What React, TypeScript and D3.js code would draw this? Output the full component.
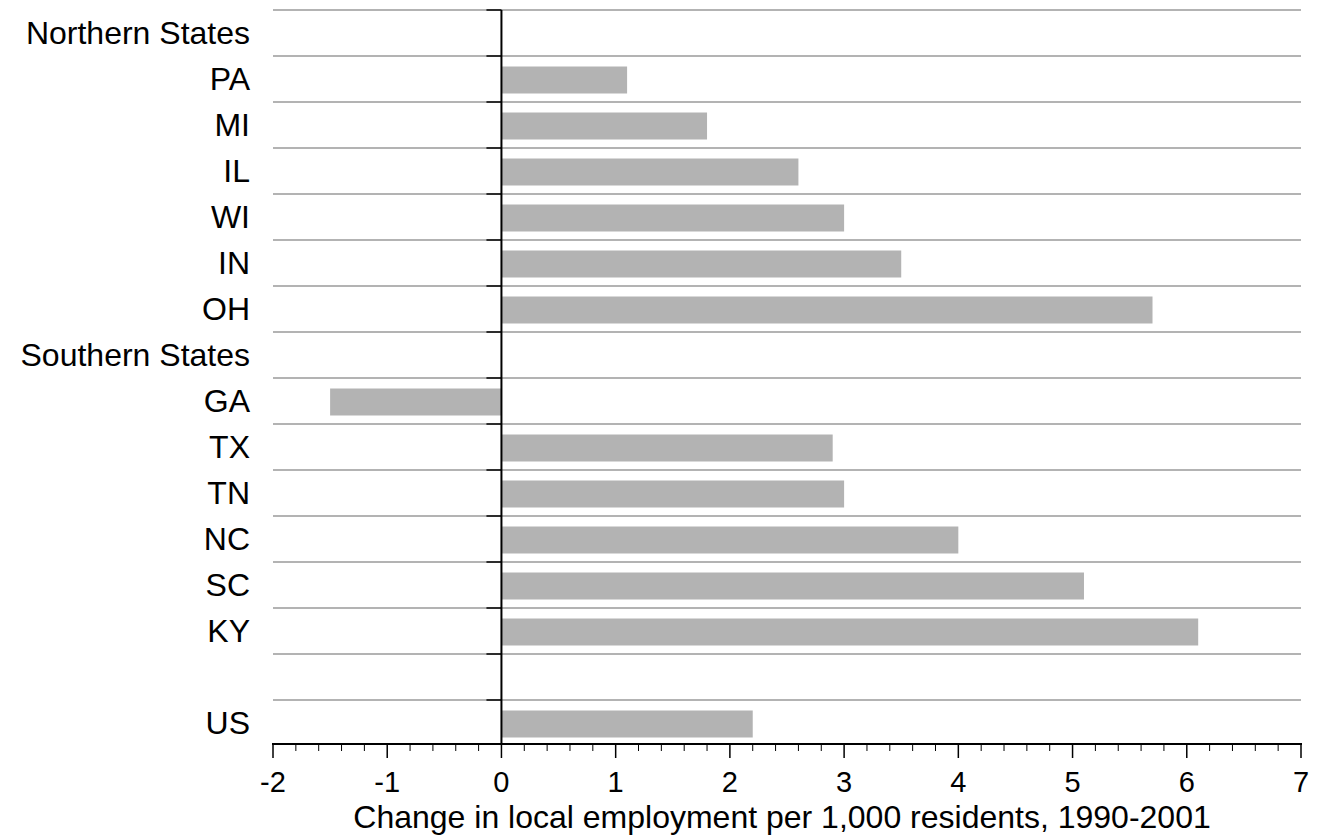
import React from "react";
import * as d3 from "d3";

const categories = ["Northern States", "PA", "MI", "IL", "WI", "IN", "OH", "Southern States", "GA", "TX", "TN", "NC", "SC", "KY", "", "US"];
const values: (number | null)[] = [null, 1.1, 1.8, 2.6, 3.0, 3.5, 5.7, null, -1.5, 2.9, 3.0, 4.0, 5.1, 6.1, null, 2.2];
const xTicks = [-2, -1, 0, 1, 2, 3, 4, 5, 6, 7];
const xTitle = "Change in local employment per 1,000 residents, 1990-2001";

export default function App() {
  const W = 1328, H = 838;
  const left = 273, right = 1301, top = 10, bottom = 746;
  const x = d3.scaleLinear().domain([-2, 7]).range([left, right]);
  const y = d3.scaleBand<number>().domain(d3.range(categories.length)).range([top, bottom]);
  const bh = 27;
  const minor = d3.range(-2, 7.0001, 0.2).filter((v) => Math.abs(v - Math.round(v)) > 1e-6);
  const font = "'Liberation Sans', Arial, Helvetica, sans-serif";
  const axisY = 744;
  return (
    <svg width={W} height={H} style={{ position: "absolute", left: 0, top: 0 }} fontFamily={font}>
      <rect width={W} height={H} fill="#fff" />
      {categories.map((c, i) => (
        <line key={"g" + i} x1={left} x2={right} y1={y(i)!} y2={y(i)!} stroke="#9a9a9a" strokeWidth={1.3} />
      ))}
      {values.map((v, i) =>
        v == null ? null : (
          <rect key={"b" + i} x={x(Math.min(0, v))} width={Math.abs(x(v) - x(0))} y={y(i)! + y.bandwidth() / 2 - bh / 2 + 1} height={bh} fill="#b3b3b3" />
        )
      )}
      {categories.map((c, i) => (
        <line key={"zt" + i} x1={x(0) - 15} x2={x(0)} y1={y(i)!} y2={y(i)!} stroke="#000" strokeWidth={1.5} />
      ))}
      <line x1={x(0)} x2={x(0)} y1={top} y2={axisY} stroke="#000" strokeWidth={2} />
      {categories.map((c, i) => (
        <text key={"l" + i} x={250} y={y(i)! + y.bandwidth() / 2} dy="0.35em" textAnchor="end" fontSize={32} fill="#000">
          {c}
        </text>
      ))}
      <line x1={left - 1} x2={right + 1} y1={axisY} y2={axisY} stroke="#000" strokeWidth={2} />
      {minor.map((v, i) => (
        <line key={"m" + i} x1={x(v)} x2={x(v)} y1={axisY} y2={axisY + 7} stroke="#000" strokeWidth={1} />
      ))}
      {xTicks.map((v) => (
        <g key={"t" + v}>
          <line x1={x(v)} x2={x(v)} y1={axisY} y2={axisY + 14} stroke="#000" strokeWidth={1.5} />
          <text x={x(v)} y={792} textAnchor="middle" fontSize={29} fill="#000">
            {v}
          </text>
        </g>
      ))}
      <text x={782} y={828} textAnchor="middle" fontSize={32} fill="#000">
        {xTitle}
      </text>
    </svg>
  );
}
